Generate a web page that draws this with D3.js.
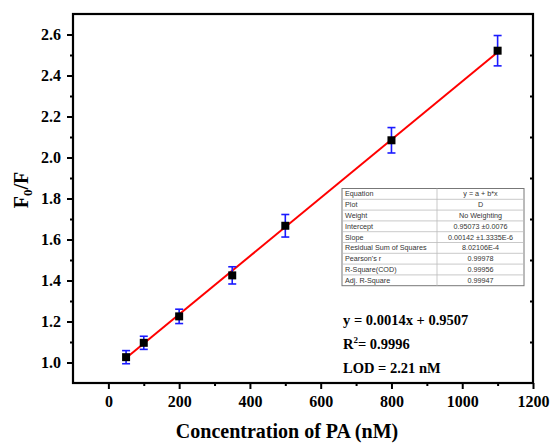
<!DOCTYPE html>
<html>
<head>
<meta charset="utf-8">
<script src="https://cdn.jsdelivr.net/npm/d3@7"></script>
<style>
  body { margin: 0; background: #fff; }
  svg { display: block; }
  .tick text { font-family: 'Liberation Serif', 'Times New Roman', serif; font-weight: bold; font-size: 16px; fill: #000; }
</style>
</head>
<body>
<script>
// measured points (F0/F vs concentration)
const conc = [50, 100, 200, 350, 500, 800, 1100];
const ratio = [1.026, 1.096, 1.225, 1.425, 1.667, 2.084, 2.521];
const errs = [0.032, 0.032, 0.035, 0.042, 0.055, 0.062, 0.074];

// linear fit drawn between first and last concentration
const fitX = [50, 1100];
const fitY = [1.022, 2.513];

const xTicks = [0, 200, 400, 600, 800, 1000, 1200];
const xMinor = [100, 300, 500, 700, 900, 1100];
const yTicks = [1.0, 1.2, 1.4, 1.6, 1.8, 2.0, 2.2, 2.4, 2.6];
const yMinor = [1.1, 1.3, 1.5, 1.7, 1.9, 2.1, 2.3, 2.5];

const tableRows = [
  ["Equation", "y = a + b*x"],
  ["Plot", "D"],
  ["Weight", "No Weighting"],
  ["Intercept", "0.95073 \u00b10.0076"],
  ["Slope", "0.00142 \u00b11.3335E-6"],
  ["Residual Sum of Squares", "8.02106E-4"],
  ["Pearson's r", "0.99978"],
  ["R-Square(COD)", "0.99956"],
  ["Adj. R-Square", "0.99947"]
];

const w = 554, h = 443;
const mLeft = 73, mRight = 533, mTop = 14, mBottom = 383;

const svg = d3.select("body").append("svg")
  .attr("width", w).attr("height", h);

const x = d3.scaleLinear().domain([-100, 1200]).range([mLeft, mRight]);
const y = d3.scaleLinear().domain([0.9, 2.7]).range([mBottom, mTop]);

const serif = "'Liberation Serif', 'Times New Roman', serif";

// bottom axis
svg.append("g")
  .attr("transform", "translate(0," + mBottom + ")")
  .call(d3.axisBottom(x).tickValues(xTicks).tickFormat(d3.format("d")).tickSize(6).tickSizeOuter(0).tickPadding(7));
svg.append("g")
  .attr("transform", "translate(0," + mBottom + ")")
  .call(d3.axisBottom(x).tickValues(xMinor).tickFormat("").tickSize(3).tickSizeOuter(0));

// left axis
svg.append("g")
  .attr("transform", "translate(" + mLeft + ",0)")
  .call(d3.axisLeft(y).tickValues(yTicks).tickFormat(d3.format(".1f")).tickSize(6).tickSizeOuter(0).tickPadding(6));
svg.append("g")
  .attr("transform", "translate(" + mLeft + ",0)")
  .call(d3.axisLeft(y).tickValues(yMinor).tickFormat("").tickSize(3).tickSizeOuter(0));

// right axis, minor ticks pointing in
svg.append("g")
  .attr("transform", "translate(" + mRight + ",0)")
  .call(d3.axisRight(y).tickValues(yMinor).tickFormat("").tickSize(-3).tickSizeOuter(0));

svg.selectAll(".domain").remove();
svg.selectAll(".tick line").attr("stroke", "#000").attr("stroke-width", 2);

// frame
svg.append("rect")
  .attr("x", mLeft).attr("y", mTop)
  .attr("width", mRight - mLeft).attr("height", mBottom - mTop)
  .attr("fill", "none").attr("stroke", "#000").attr("stroke-width", 2.2);

// fit line
svg.append("line")
  .attr("x1", x(fitX[0])).attr("y1", y(fitY[0]))
  .attr("x2", x(fitX[1])).attr("y2", y(fitY[1]))
  .attr("stroke", "#f00").attr("stroke-width", 2);

// error bars
const eb = svg.append("g").attr("stroke", "#1a1aff").attr("stroke-width", 1.6);
conc.forEach((c, i) => {
  const cx = x(c), y1 = y(ratio[i] + errs[i]), y2 = y(ratio[i] - errs[i]);
  eb.append("line").attr("x1", cx).attr("x2", cx).attr("y1", y1).attr("y2", y2);
  eb.append("line").attr("x1", cx - 4).attr("x2", cx + 4).attr("y1", y1).attr("y2", y1);
  eb.append("line").attr("x1", cx - 4).attr("x2", cx + 4).attr("y1", y2).attr("y2", y2);
});

// data squares
svg.selectAll("rect.pt")
  .data(conc)
  .enter()
  .append("rect")
  .attr("class", "pt")
  .attr("x", (d) => x(d) - 4)
  .attr("y", (d, i) => y(ratio[i]) - 4)
  .attr("width", 8).attr("height", 8)
  .attr("fill", "#000");

// fit statistics table
const tx = 342, ty = 188.5, tw = 182, rh = 10.8, split = 95;
const tbl = svg.append("g");
tbl.append("rect")
  .attr("x", tx).attr("y", ty).attr("width", tw).attr("height", rh * tableRows.length)
  .attr("fill", "#fff").attr("stroke", "#777").attr("stroke-width", 1);
tableRows.forEach((r, i) => {
  if (i > 0) {
    tbl.append("line")
      .attr("x1", tx).attr("x2", tx + tw)
      .attr("y1", ty + i * rh).attr("y2", ty + i * rh)
      .attr("stroke", "#bbb").attr("stroke-width", 0.8);
  }
  tbl.append("text")
    .attr("x", tx + 3).attr("y", ty + i * rh + rh / 2)
    .attr("dy", "0.35em")
    .attr("font-family", "'Liberation Sans', Arial, sans-serif")
    .attr("font-size", 7.2).attr("fill", "#333")
    .text(r[0]);
  tbl.append("text")
    .attr("x", tx + split + (tw - split) / 2).attr("y", ty + i * rh + rh / 2)
    .attr("dy", "0.35em")
    .attr("text-anchor", "middle")
    .attr("font-family", "'Liberation Sans', Arial, sans-serif")
    .attr("font-size", 7.2).attr("fill", "#333")
    .text(r[1]);
});
tbl.append("line")
  .attr("x1", tx + split).attr("x2", tx + split)
  .attr("y1", ty).attr("y2", ty + rh * tableRows.length)
  .attr("stroke", "#bbb").attr("stroke-width", 0.8);

// equation annotations
const ann = svg.append("g")
  .attr("font-family", serif).attr("font-weight", "bold")
  .attr("font-size", 14.5).attr("fill", "#000");
ann.append("text").attr("x", 343).attr("y", 325).text("y = 0.0014x + 0.9507");
const r2 = ann.append("text").attr("x", 343).attr("y", 349);
r2.append("tspan").text("R");
r2.append("tspan").attr("font-size", 9).attr("dy", -6).text("2");
r2.append("tspan").attr("dy", 6).text("= 0.9996");
ann.append("text").attr("x", 343).attr("y", 373).text("LOD = 2.21 nM");

// axis titles
svg.append("text")
  .attr("x", 287).attr("y", 438)
  .attr("text-anchor", "middle")
  .attr("font-family", serif).attr("font-weight", "bold").attr("font-size", 20)
  .text("Concentration of PA (nM)");

const yl = svg.append("text")
  .attr("transform", "translate(28,190) rotate(-90)")
  .attr("text-anchor", "middle")
  .attr("font-family", serif).attr("font-weight", "bold").attr("font-size", 20);
yl.append("tspan").text("F");
yl.append("tspan").attr("font-size", 13).attr("dy", 4).text("0");
yl.append("tspan").attr("dy", -4).text("/F");
</script>
</body>
</html>
